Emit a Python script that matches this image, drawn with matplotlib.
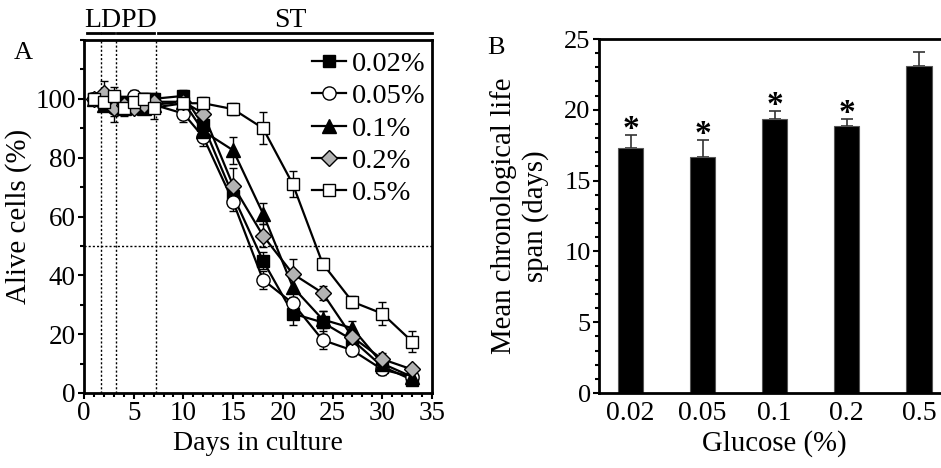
import matplotlib
matplotlib.use("Agg")
import matplotlib.pyplot as plt
from matplotlib.ticker import MultipleLocator

plt.rcParams['font.family'] = ['Liberation Serif', 'DejaVu Serif']

# ---- panel A data ----
days = [1, 2, 3, 4, 5, 6, 7, 10, 12, 15, 18, 21, 24, 27, 30, 33]

alive_002 = [100, 99, 100, 99, 100, 100, 100, 101, 91, 67, 45, 27, 24, 18, 9, 4.5]
alive_005 = [100, 98, 97, 98, 101, 99, 98, 95, 87, 65, 38.5, 30.5, 18, 14.5, 8, 5.5]
alive_01 = [100, 98, 99, 97, 98, 97, 98, 99, 89, 82.5, 61, 36, 25, 22, 10, 5.5]
alive_02 = [100, 102, 97, 98, 97, 98, 99, 99, 95, 70.5, 53.5, 40.5, 34, 19, 11.5, 8]
alive_05 = [100, 99, 101, 97, 99, 100, 97, 98.5, 98.5, 96.5, 90, 71, 44, 31, 27, 17.5]

err_002 = [2, 2, 2, 2, 2, 2, 2, 2, 3, 3, 3, 4, 4, 3, 2, 1.5]
err_005 = [2, 2, 3, 2, 2, 2, 2, 3, 3, 3, 3, 2, 3, 2, 2, 1.5]
err_01 = [2, 2, 3, 2, 2, 2, 2, 2, 3, 4.5, 3.5, 4, 3, 2.5, 2, 1.5]
err_02 = [2, 4, 5, 2, 2, 2, 2, 2, 3, 6, 4, 5, 2.5, 2.5, 2, 1.5]
err_05 = [2, 3, 3, 3, 2, 2, 4, 2, 2, 2, 5.5, 4.4, 2, 2, 4, 3.5]

labels_a = ['0.02%', '0.05%', '0.1%', '0.2%', '0.5%']

# ---- panel B data ----
glucose = ['0.02', '0.05', '0.1', '0.2', '0.5']
mean_cls = [17.3, 16.65, 19.35, 18.85, 23.1]
err_cls = [0.9, 1.2, 0.57, 0.5, 1.0]
signif = [True, True, True, True, False]

fig = plt.figure(figsize=(9.41, 4.68), dpi=100)

# ===== panel A =====
ax = fig.add_axes([84/941, 1-393/468, 348/941, 353/468])

series = [alive_002, alive_005, alive_01, alive_02, alive_05]
errs = [err_002, err_005, err_01, err_02, err_05]
markers = ['s', 'o', '^', 'D', 's']
faces = ['black', 'white', 'black', '#b3b3b3', 'white']
msizes = [8.5, 9.5, 9.5, 8, 9]

for i in range(5):
    ax.errorbar(days, series[i], yerr=errs[i], fmt='none', ecolor='black',
                elinewidth=1, capsize=3, capthick=1, zorder=2)
for i in range(5):
    ax.plot(days, series[i], color='black', lw=1.6, marker=markers[i],
            markerfacecolor=faces[i], markeredgecolor='black', markeredgewidth=1,
            markersize=msizes[i], label=labels_a[i], zorder=3 + i)

ax.axhline(50, color='black', lw=1, ls=(0, (1.5, 1.5)), zorder=1)
for d in [1.7, 3.2, 7.2]:
    ax.axvline(d, color='black', lw=1, ls=(0, (1.5, 1.5)), zorder=1)

ax.set_xlim(0, 35)
ax.set_ylim(0, 120)
ax.xaxis.set_major_locator(MultipleLocator(5))
ax.xaxis.set_minor_locator(MultipleLocator(1))
ax.yaxis.set_minor_locator(MultipleLocator(10))
ax.set_yticks([0, 20, 40, 60, 80, 100])
ax.tick_params(which='both', direction='out', width=1.5, labelsize=19.5, pad=2)
ax.tick_params(which='major', length=4)
ax.tick_params(which='minor', length=3)
for s in ax.spines.values():
    s.set_linewidth(2)
ax.set_xlabel('Days in culture', fontsize=20, labelpad=3)
ax.set_ylabel('Alive cells (%)', fontsize=20.8, labelpad=2)

leg = ax.legend(loc='upper left', bbox_to_anchor=(0.655, 0.968), frameon=False,
                fontsize=20.5, handlelength=1.2, handletextpad=0.2,
                labelspacing=0.22, borderpad=0, borderaxespad=0)

# phase bars above panel A
phase_segs = [(0.3, 1.6), (1.8, 3.0), (3.3, 7.0), (7.4, 35)]
for a, b in phase_segs:
    ax.plot([a, b], [122.4, 122.4], color='black', lw=2, clip_on=False)
ax.text(0.0, 122.3, 'LDPD', fontsize=20, ha='left', va='bottom')
ax.text(20.7, 122.3, 'ST', fontsize=20, ha='center', va='bottom')
ax.text(-7.1, 115.6, 'A', fontsize=19, ha='left', va='center')

# ===== panel B =====
bx = fig.add_axes([599/941, 1-393/468, 351.4/941, 354/468])
xpos = list(range(len(glucose)))
bx.bar(xpos, mean_cls, width=0.35, color='black', edgecolor='#555555', lw=0.8, zorder=2)
bx.errorbar(xpos, mean_cls, yerr=[[0]*5, err_cls], fmt='none', ecolor='#333333',
            elinewidth=1.2, capsize=4, capthick=1.2, zorder=1)
for x, m, e, s in zip(xpos, mean_cls, err_cls, signif):
    if s:
        bx.text(x, m + e - 0.68, '*', fontsize=24, fontweight='bold',
                ha='center', va='bottom')

bx.set_xlim(-0.437, 4.437)
bx.set_ylim(0, 25)
bx.set_xticks(xpos)
bx.set_xticklabels(glucose)
bx.yaxis.set_major_locator(MultipleLocator(5))
bx.yaxis.set_minor_locator(MultipleLocator(1))
bx.tick_params(axis='x', length=0, labelsize=20, pad=6)
bx.tick_params(axis='y', which='both', direction='out', width=1.5, labelsize=19, pad=2)
bx.tick_params(axis='y', which='major', length=4)
bx.tick_params(axis='y', which='minor', length=3)
for s in bx.spines.values():
    s.set_linewidth(2)
bx.set_xlabel('Glucose (%)', fontsize=20.7, labelpad=3)
bx.set_ylabel('Mean chronological life\nspan (days)', fontsize=20.7, labelpad=11,
              linespacing=1.25)
bx.text(-1.99, 24.36, 'B', fontsize=19, ha='left', va='center')

fig.savefig('out.png', dpi=100)
